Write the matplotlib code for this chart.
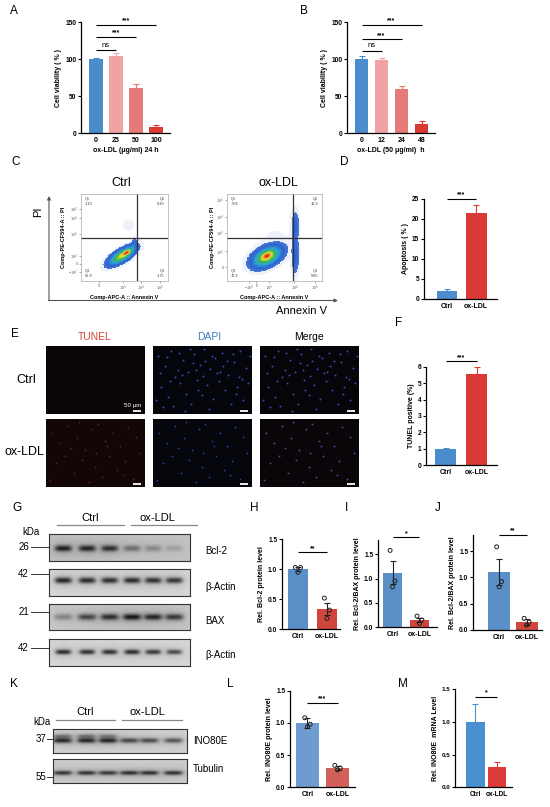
import numpy as np
import matplotlib
matplotlib.use("Agg")
import matplotlib.pyplot as plt
from matplotlib.colors import LinearSegmentedColormap, ListedColormap

plt.rcParams['font.family'] = ['Liberation Sans', 'DejaVu Sans']
plt.rcParams['mathtext.fontset'] = 'custom'
plt.rcParams['mathtext.rm'] = 'Liberation Sans'

# ---------------- data ----------------
A_doses = ["0", "25", "50", "100"]
A_vals = [100, 104, 61, 8]
A_err = [2, 5, 6, 3]
B_times = ["0", "12", "24", "48"]
B_vals = [100, 99, 60, 13]
B_err = [5, 3, 4, 4]
groups = ["Ctrl", "ox-LDL"]
D_vals = [1.8, 21.5]
D_err = [0.7, 1.8]
F_vals = [1.0, 5.6]
F_err = [0.07, 0.4]
H_vals = [1.0, 0.34]
H_err = [0.03, 0.1]
H_pts = [[1.03, 1.03, 0.95], [0.52, 0.32, 0.18]]
I_vals = [1.12, 0.15]
I_err = [0.24, 0.05]
I_pts = [[1.58, 0.95, 0.83], [0.23, 0.15, 0.08]]
J_vals = [1.1, 0.15]
J_err = [0.24, 0.05]
J_pts = [[1.58, 0.92, 0.82], [0.22, 0.15, 0.09]]
L_vals = [1.0, 0.30]
L_err = [0.08, 0.03]
L_pts = [[1.08, 0.98, 0.94], [0.34, 0.30, 0.27]]
M_vals = [1.0, 0.31]
M_err = [0.27, 0.08]

flow_quadrants = {"Ctrl": ["1.10", "0.30", "96.8", "1.75"],
                  "ox-LDL": ["7.04", "12.9", "70.2", "9.85"]}

# western blot band intensities (6 lanes: 3 Ctrl, 3 ox-LDL)
bcl2_int = [0.95, 0.92, 0.85, 0.45, 0.30, 0.18]
actin1_int = [0.92, 0.88, 0.85, 0.88, 0.85, 0.82]
bax_int = [0.35, 0.70, 0.85, 1.0, 0.90, 0.78]
actin2_int = [0.88, 0.85, 0.85, 0.88, 0.80, 0.70]
ino80e_int = [0.90, 0.92, 0.92, 0.70, 0.68, 0.62]
ino80e_upper = [0.45, 0.45, 0.40, 0.0, 0.0, 0.0]
tubulin_int = [0.82, 0.82, 0.80, 0.85, 0.85, 0.85]

# nuclei positions (panel fractions)
ctrl_nuc_x = [0.05, 0.12, 0.18, 0.22, 0.30, 0.35, 0.41, 0.47, 0.52, 0.58, 0.63, 0.70, 0.76, 0.82,
              0.88, 0.94, 0.08, 0.15, 0.27, 0.33, 0.44, 0.55, 0.61, 0.67, 0.73, 0.85, 0.91, 0.10,
              0.20, 0.38, 0.49, 0.57, 0.79, 0.96, 0.25, 0.45, 0.65, 0.87, 0.03, 0.32, 0.40, 0.71,
              0.14, 0.26, 0.37, 0.53, 0.60, 0.68, 0.81, 0.90, 0.07, 0.43, 0.75, 0.98, 0.17, 0.29,
              0.50, 0.84]
ctrl_nuc_y = [0.85, 0.70, 0.92, 0.55, 0.80, 0.62, 0.88, 0.72, 0.95, 0.66, 0.83, 0.90, 0.58, 0.76,
              0.92, 0.68, 0.40, 0.25, 0.45, 0.30, 0.50, 0.42, 0.22, 0.48, 0.35, 0.40, 0.20, 0.10,
              0.12, 0.15, 0.28, 0.08, 0.15, 0.45, 0.65, 0.35, 0.60, 0.55, 0.20, 0.05, 0.75, 0.70,
              0.84, 0.90, 0.96, 0.78, 0.86, 0.62, 0.88, 0.52, 0.60, 0.64, 0.78, 0.85, 0.48, 0.58,
              0.56, 0.30]
ox_nuc_x = [0.06, 0.14, 0.22, 0.31, 0.39, 0.46, 0.53, 0.60, 0.68, 0.75, 0.83, 0.91, 0.10, 0.19,
            0.28, 0.36, 0.49, 0.57, 0.64, 0.72, 0.80, 0.88, 0.95, 0.04, 0.25, 0.43, 0.62, 0.78,
            0.50, 0.33]
ox_nuc_y = [0.80, 0.65, 0.90, 0.72, 0.55, 0.85, 0.93, 0.68, 0.80, 0.60, 0.88, 0.73, 0.35, 0.45,
            0.20, 0.40, 0.30, 0.15, 0.45, 0.25, 0.38, 0.12, 0.50, 0.10, 0.58, 0.08, 0.60, 0.18,
            0.50, 0.95]

# flow cytometry density blobs: (cx, cy, sx, sy, rho, weight) in plot fractions
ctrl_blobs = [(0.47, 0.29, 0.078, 0.055, 0.7, 1.0),
              (0.53, 0.33, 0.03, 0.025, 0.6, 0.8),
              (0.61, 0.42, 0.02, 0.035, 0.3, 0.10),
              (0.55, 0.64, 0.09, 0.09, 0.0, 0.005)]
ox_blobs = [(0.42, 0.28, 0.08, 0.063, 0.45, 1.0),
            (0.42, 0.29, 0.035, 0.028, 0.5, 0.5),
            (0.72, 0.30, 0.022, 0.12, 0.0, 0.10),
            (0.72, 0.64, 0.022, 0.09, 0.0, 0.09),
            (0.50, 0.50, 0.20, 0.22, 0.0, 0.004)]

# ---------------- figure ----------------
W, H = 550, 807
fig = plt.figure(figsize=(5.5, 8.07), dpi=100)
fig.patch.set_facecolor('white')


def ax_px(l, t, r, b):
    return fig.add_axes([l / W, 1 - b / H, (r - l) / W, (b - t) / H])


ov = fig.add_axes([0, 0, 1, 1])
ov.set_xlim(0, W)
ov.set_ylim(H, 0)
ov.axis('off')
ov.set_zorder(10)
ov.patch.set_visible(False)


def T(x, y, s, **kw):
    kw.setdefault('ha', 'center')
    kw.setdefault('va', 'center')
    ov.text(x, y, s, **kw)


def bar_panel(left, right, p0, p_ref, v_ref, ytop, xlim, cats, vals, errs, colors,
              yticks, ytl, ylabel, sigs, err_color=None, both=False, pts=None,
              width=0.7, xlabel=None, fs=4.8):
    s = (p0 - p_ref) / v_ref
    top = p0 - ytop * s
    ax = ax_px(left, top, right, p0)
    x = np.arange(len(vals))
    ax.bar(x, vals, width=width, color=colors, zorder=2, linewidth=0)
    for i in range(len(vals)):
        ec = err_color or colors[i]
        lo = errs[i] if both else 0
        ax.errorbar(x[i], vals[i], yerr=[[lo], [errs[i]]], fmt='none', ecolor=ec,
                    elinewidth=0.8, capsize=2.2, capthick=0.8, zorder=3)
    if pts is not None:
        offs = [-0.09, 0.09, 0.0]
        for i, p in enumerate(pts):
            ax.scatter([x[i] + o for o in offs], p, s=8, facecolors='none',
                       edgecolors='#222222', linewidths=0.7, zorder=4, clip_on=False)
    for (i, j, y, txt) in sigs:
        ax.plot([i, j], [y, y], color='black', lw=0.8, clip_on=False, solid_capstyle='butt')
        if txt == 'ns':
            ax.text((i + j) / 2, y + ytop * 0.015, txt, ha='center', va='bottom',
                    fontsize=5.5, clip_on=False)
        else:
            ax.text((i + j) / 2, y + ytop * 0.005, txt, ha='center', va='bottom',
                    fontsize=5, fontweight='bold', clip_on=False)
    ax.set_xlim(*xlim)
    ax.set_ylim(0, ytop)
    ax.set_yticks(yticks)
    ax.set_yticklabels(ytl, fontsize=fs, fontweight='bold')
    ax.set_xticks(x)
    ax.set_xticklabels(cats, fontsize=fs + 0.2, fontweight='bold')
    for sp in ['top', 'right']:
        ax.spines[sp].set_visible(False)
    for sp in ['left', 'bottom']:
        ax.spines[sp].set_linewidth(0.9)
    ax.tick_params(axis='y', length=2.2, width=0.8, pad=1.2)
    ax.tick_params(axis='x', length=0, pad=3)
    ax.set_ylabel(ylabel, fontsize=5, fontweight='bold', labelpad=2)
    if xlabel:
        ax.set_xlabel(xlabel, fontsize=5, fontweight='bold', labelpad=1.5)
    return ax


# ---------------- A & B ----------------
cA = ["#4A8CCC", "#F0A3A3", "#E57B78", "#D93A32"]
bar_panel(81, 170, 133.3, 22.3, 150, 150, (-0.75, 3.7), A_doses, A_vals, A_err, cA,
          [0, 50, 100, 150], ["0", "50", "100", "150"], "Cell viability ( % )",
          [(0, 1, 112, 'ns'), (0, 2, 130, '***'), (0, 3, 147, '***')],
          xlabel="ox-LDL (μg/ml) 24 h")
bar_panel(347, 435, 133.3, 22.3, 150, 150, (-0.725, 3.675), B_times, B_vals, B_err, cA,
          [0, 50, 100, 150], ["0", "50", "100", "150"], "Cell viability ( % )",
          [(0, 1, 111, 'ns'), (0, 2, 127, '***'), (0, 3, 147, '***')],
          width=0.65, xlabel="ox-LDL (50 μg/ml)  h")

# ---------------- C flow cytometry ----------------
flow_cmap = LinearSegmentedColormap.from_list(
    'flow', [(0, '#4a78d8'), (0.15, '#2f62cc'), (0.4, '#2aa8d8'), (0.6, '#3cb44b'),
             (0.8, '#e6e03a'), (0.92, '#ee7a2a'), (1.0, '#d92a20')])
haze_cmap = ListedColormap(['#c9d8f2'])


def density(blobs, n=150):
    xs = np.linspace(0, 1, n)
    X, Y = np.meshgrid(xs, xs)
    Z = np.zeros_like(X)
    for cx, cy, sx, sy, rho, w in blobs:
        dx = (X - cx) / sx
        dy = (Y - cy) / sy
        Z += w * np.exp(-(dx * dx - 2 * rho * dx * dy + dy * dy) / (2 * (1 - rho * rho)))
    return Z / Z.max()


def flow_panel(l, t, r, b, blobs, qx, qy, quad, xt, xtl, yt, ytl):
    ax = ax_px(l, t, r, b)
    Z = density(blobs) ** 0.5
    low = 0.12
    haze = np.ma.masked_where((Z < 0.05) | (Z >= low), Z)
    ax.imshow(haze, cmap=haze_cmap, alpha=0.35, extent=(0, 1, 0, 1), origin='lower',
              aspect='auto', interpolation='nearest')
    Zm = np.ma.masked_less(Z, low)
    ax.imshow((Zm - low) / (1 - low), cmap=flow_cmap, vmin=0, vmax=1, extent=(0, 1, 0, 1),
              origin='lower', aspect='auto', interpolation='nearest')
    ax.axvline(qx, color='#333333', lw=0.9)
    ax.axhline(qy, color='#333333', lw=0.9)
    ax.set_xlim(0, 1)
    ax.set_ylim(0, 1)
    for sp in ax.spines.values():
        sp.set_color('#aaaaaa')
        sp.set_linewidth(0.5)
    ax.set_xticks(xt)
    ax.set_xticklabels(xtl, fontsize=2.8, color='#444444')
    ax.set_yticks(yt)
    ax.set_yticklabels(ytl, fontsize=2.8, color='#444444')
    ax.tick_params(length=1.5, width=0.4, pad=0.8, colors='#666666')
    ax.set_xlabel("Comp-APC-A :: Annexin V", fontsize=4, fontweight='bold', labelpad=1)
    ax.set_ylabel("Comp-PE-CF594-A :: PI", fontsize=4, fontweight='bold', labelpad=1)
    qfs = 2.8
    ax.text(0.04, 0.96, "Q1\n" + quad[0], fontsize=qfs, ha='left', va='top', color='#444444')
    ax.text(0.96, 0.96, "Q2\n" + quad[1], fontsize=qfs, ha='right', va='top', color='#444444')
    ax.text(0.04, 0.04, "Q4\n" + quad[2], fontsize=qfs, ha='left', va='bottom', color='#444444')
    ax.text(0.96, 0.04, "Q3\n" + quad[3], fontsize=qfs, ha='right', va='bottom', color='#444444')


flow_panel(81, 194, 168, 281, ctrl_blobs, 0.64, 0.49, flow_quadrants["Ctrl"],
           [0.21, 0.48, 0.69, 0.91], ["0", "$10^3$", "$10^4$", "$10^5$"],
           [0.1, 0.2, 0.29, 0.54, 0.72, 0.83], ["$-10^2$", "0", "$10^2$", "$10^3$", "$10^4$", "$10^5$"])
flow_panel(227, 194, 322, 281, ox_blobs, 0.69, 0.5, flow_quadrants["ox-LDL"],
           [0.23, 0.31, 0.44, 0.71, 0.93], ["$-10^3$", "0", "$10^3$", "$10^4$", "$10^5$"],
           [0.16, 0.34, 0.55, 0.74, 0.93], ["0", "$10^2$", "$10^3$", "$10^4$", "$10^5$"])

T(121, 183, "Ctrl", fontsize=9)
T(278, 183, "ox-LDL", fontsize=9)
ov.annotate("", xy=(49, 196), xytext=(49, 300.5),
            arrowprops=dict(arrowstyle='-|>', color='#555555', lw=0.8, mutation_scale=5,
                            shrinkA=0, shrinkB=0))
ov.annotate("", xy=(338, 300.5), xytext=(48.6, 300.5),
            arrowprops=dict(arrowstyle='-|>', color='#555555', lw=0.8, mutation_scale=5,
                            shrinkA=0, shrinkB=0))
T(38, 212, "PI", fontsize=8, rotation=90)
T(302, 311, "Annexin V", fontsize=8)

# ---------------- D ----------------
cD = ["#4A8CCC", "#D93A35"]
bar_panel(424, 497, 298.5, 198.5, 25, 25, (-0.79, 1.72), groups, D_vals, D_err, cD,
          [0, 5, 10, 15, 20, 25], ["0", "5", "10", "15", "20", "25"], "Apoptosis ( % )",
          [(0, 1, 24.9, '***')], width=0.72)

# ---------------- E microscopy ----------------
cols = [(46, 145), (153, 252), (260, 359)]
rows = [(346, 414), (419, 487)]


def micro(l, t, r, b, bg, layers, scale_text=False):
    ax = ax_px(l, t, r, b)
    ax.set_facecolor(bg)
    for xs, ys, c, sz, a in layers:
        ax.scatter(xs, ys, s=sz, c=c, alpha=a, linewidths=0, marker='o')
    ax.plot([0.88, 0.96], [0.05, 0.05], color='white', lw=1.3, solid_capstyle='butt')
    if scale_text:
        ax.text(0.96, 0.09, "50 μm", color='white', fontsize=4.5, ha='right', va='bottom')
    ax.set_xlim(0, 1)
    ax.set_ylim(0, 1)
    ax.set_xticks([])
    ax.set_yticks([])
    for sp in ax.spines.values():
        sp.set_visible(False)


(r1t, r1b), (r2t, r2b) = rows
micro(cols[0][0], r1t, cols[0][1], r1b, '#0b0404', [], scale_text=True)
micro(cols[1][0], r1t, cols[1][1], r1b, '#05050c', [(ctrl_nuc_x, ctrl_nuc_y, '#3a5ad0', 2.0, 0.85)])
micro(cols[2][0], r1t, cols[2][1], r1b, '#070509', [(ctrl_nuc_x, ctrl_nuc_y, '#3a5ad0', 2.0, 0.85)])
micro(cols[0][0], r2t, cols[0][1], r2b, '#130606', [(ox_nuc_x, ox_nuc_y, '#8a2020', 2.0, 0.7)])
micro(cols[1][0], r2t, cols[1][1], r2b, '#05050c', [(ox_nuc_x, ox_nuc_y, '#3448c0', 1.8, 0.8)])
micro(cols[2][0], r2t, cols[2][1], r2b, '#0a0509', [(ox_nuc_x, ox_nuc_y, '#7a4ab8', 1.8, 0.8)])

T(95, 337, "TUNEL", fontsize=7.5, color='#D9413A')
T(209, 337, "DAPI", fontsize=7.5, color='#3A7FC0')
T(309, 337, "Merge", fontsize=7.5)
T(26, 380, "Ctrl", fontsize=9)
T(24, 452, "ox-LDL", fontsize=9)

# ---------------- F ----------------
bar_panel(426, 497, 465, 367, 6, 6, (-0.63, 1.66), groups, F_vals, F_err, cD,
          [0, 1, 2, 3, 4, 5, 6], ["0", "1", "2", "3", "4", "5", "6"], "TUNEL positive (%)",
          [(0, 1, 6.35, '***')], width=0.68)


# ---------------- G western blot ----------------
def blot(l, t, r, b, bands, bg=0.82):
    ax = ax_px(l, t, r, b)
    ny, nx = 60, 220
    xs = np.linspace(0, 1, nx)
    ys = np.linspace(0, 1, ny)
    X, Y = np.meshgrid(xs, ys)
    dark = np.zeros_like(X)
    haze = np.zeros_like(X)
    for centers, ints, cy, wx, wy in bands:
        for cx, a in zip(centers, ints):
            dark += a * np.exp(-np.abs((X - cx) / wx) ** 4) * np.exp(-((Y - cy) / wy) ** 2)
            haze += a * np.exp(-((X - cx) / (wx * 1.6)) ** 2) * np.exp(-((Y - cy) / (wy * 3.0)) ** 2)
    dark = np.clip(dark, 0, 1)
    img = bg - 0.10 * np.clip(haze, 0, 1)
    img = img - (img - 0.08) * dark
    ax.imshow(img, cmap='gray', vmin=0, vmax=1, extent=(0, 1, 1, 0), aspect='auto',
              interpolation='bilinear')
    ax.set_xlim(0, 1)
    ax.set_ylim(1, 0)
    ax.set_xticks([])
    ax.set_yticks([])
    for sp in ax.spines.values():
        sp.set_linewidth(0.8)
        sp.set_color('#333333')
    return ax


g_lanes = [0.10, 0.27, 0.43, 0.59, 0.74, 0.89]
blot(49, 534, 190, 561, [(g_lanes, bcl2_int, 0.55, 0.06, 0.11)], bg=0.76)
blot(49, 569, 190, 596, [(g_lanes, actin1_int, 0.42, 0.06, 0.11)], bg=0.84)
blot(49, 604, 190, 630, [(g_lanes, bax_int, 0.50, 0.065, 0.12)], bg=0.78)
blot(49, 639, 190, 666, [(g_lanes, actin2_int, 0.48, 0.055, 0.09)], bg=0.84)

T(90, 518, "Ctrl", fontsize=8)
T(157, 518, "ox-LDL", fontsize=8)
ov.plot([57, 124], [525, 525], color='#888888', lw=0.9)
ov.plot([131, 197], [525, 525], color='#888888', lw=0.9)
T(31, 532, "kDa", fontsize=7)
for lab, y in [("26", 547), ("42", 574), ("21", 612), ("42", 648)]:
    T(29, y, lab, fontsize=7, ha='right')
    ov.plot([31, 49], [y, y], color='#333333', lw=0.7)
for lab, y in [("Bcl-2", 551), ("β-Actin", 587), ("BAX", 621), ("β-Actin", 655)]:
    T(205, y, lab, fontsize=7, ha='left')

# ---------------- H I J ----------------
cH = ["#5A8FC8", "#D0463D"]
bar_panel(282, 340, 629.3, 539.3, 1.5, 1.5, (-0.55, 1.45), groups, H_vals, H_err, cH,
          [0, 0.5, 1.0, 1.5], ["0.0", "0.5", "1.0", "1.5"], "Rel. Bcl-2 protein level",
          [(0, 1, 1.28, '**')], err_color='#222222', both=True, pts=H_pts)
bar_panel(378, 437, 627.3, 554.3, 1.5, 1.8, (-0.54, 1.65), groups, I_vals, I_err, cH,
          [0, 0.5, 1.0, 1.5], ["0.0", "0.5", "1.0", "1.5"], "Rel. Bcl-2/BAX protein level",
          [(0, 1, 1.85, '*')], err_color='#222222', both=True, pts=I_pts, width=0.72)
bar_panel(473, 542, 630, 551, 1.5, 1.8, (-0.95, 1.56), groups, J_vals, J_err, cH,
          [0, 0.5, 1.0, 1.5], ["0.0", "0.5", "1.0", "1.5"], "Rel. Bcl-2/BAX protein level",
          [(0, 1, 1.8, '**')], err_color='#222222', both=True, pts=J_pts, width=0.8)

# ---------------- K western blot ----------------
k_lanes = [0.07, 0.25, 0.41, 0.57, 0.72, 0.90]
blot(53, 729, 187, 753, [(k_lanes, ino80e_int, 0.50, 0.07, 0.10),
                         (k_lanes, ino80e_upper, 0.33, 0.07, 0.08)], bg=0.82)
blot(53, 759, 187, 783, [(k_lanes, tubulin_int, 0.58, 0.07, 0.09)], bg=0.80)
T(85, 712, "Ctrl", fontsize=8)
T(147, 712, "ox-LDL", fontsize=8)
ov.plot([56, 115], [720, 720], color='#888888', lw=0.9)
ov.plot([122, 182], [720, 720], color='#888888', lw=0.9)
T(42, 722, "kDa", fontsize=7)
for lab, y in [("37", 739), ("55", 777)]:
    T(46, y, lab, fontsize=7, ha='right')
    ov.plot([47, 53], [y, y], color='#333333', lw=0.7)
T(193, 741, "INO80E", fontsize=7, ha='left')
T(193, 769, "Tubulin", fontsize=7, ha='left')

# ---------------- L & M ----------------
cL = ["#6E9CD0", "#D2605A"]
bar_panel(290, 355, 787.3, 690.7, 1.5, 1.5, (-0.58, 1.58), groups, L_vals, L_err, cL,
          [0, 0.5, 1.0, 1.5], ["0.0", "0.5", "1.0", "1.5"], "Rel. INO80E protein level",
          [(0, 1, 1.31, '***')], err_color='#222222', both=True, pts=L_pts, width=0.74)
cM = ["#4A90D0", "#DC3B3B"]
bar_panel(455, 512, 787.3, 689.3, 1.5, 1.5, (-0.95, 1.7), groups, M_vals, M_err, cM,
          [0, 0.5, 1.0, 1.5], ["0.0", "0.5", "1.0", "1.5"], "Rel. INO80E  mRNA Level",
          [(0, 1, 1.38, '*')], width=0.85, fs=4.5)

# ---------------- panel letters ----------------
for lab, x, y in [("A", 10, 11), ("B", 300, 11), ("C", 11, 162), ("D", 340, 162),
                  ("E", 11, 334), ("F", 395, 323), ("G", 12, 508), ("H", 250, 508),
                  ("I", 345, 508), ("J", 435, 508), ("K", 10, 684), ("L", 227, 684),
                  ("M", 398, 684)]:
    T(x, y, lab, fontsize=8.5, ha='left')

fig.savefig("out.png", dpi=100)
